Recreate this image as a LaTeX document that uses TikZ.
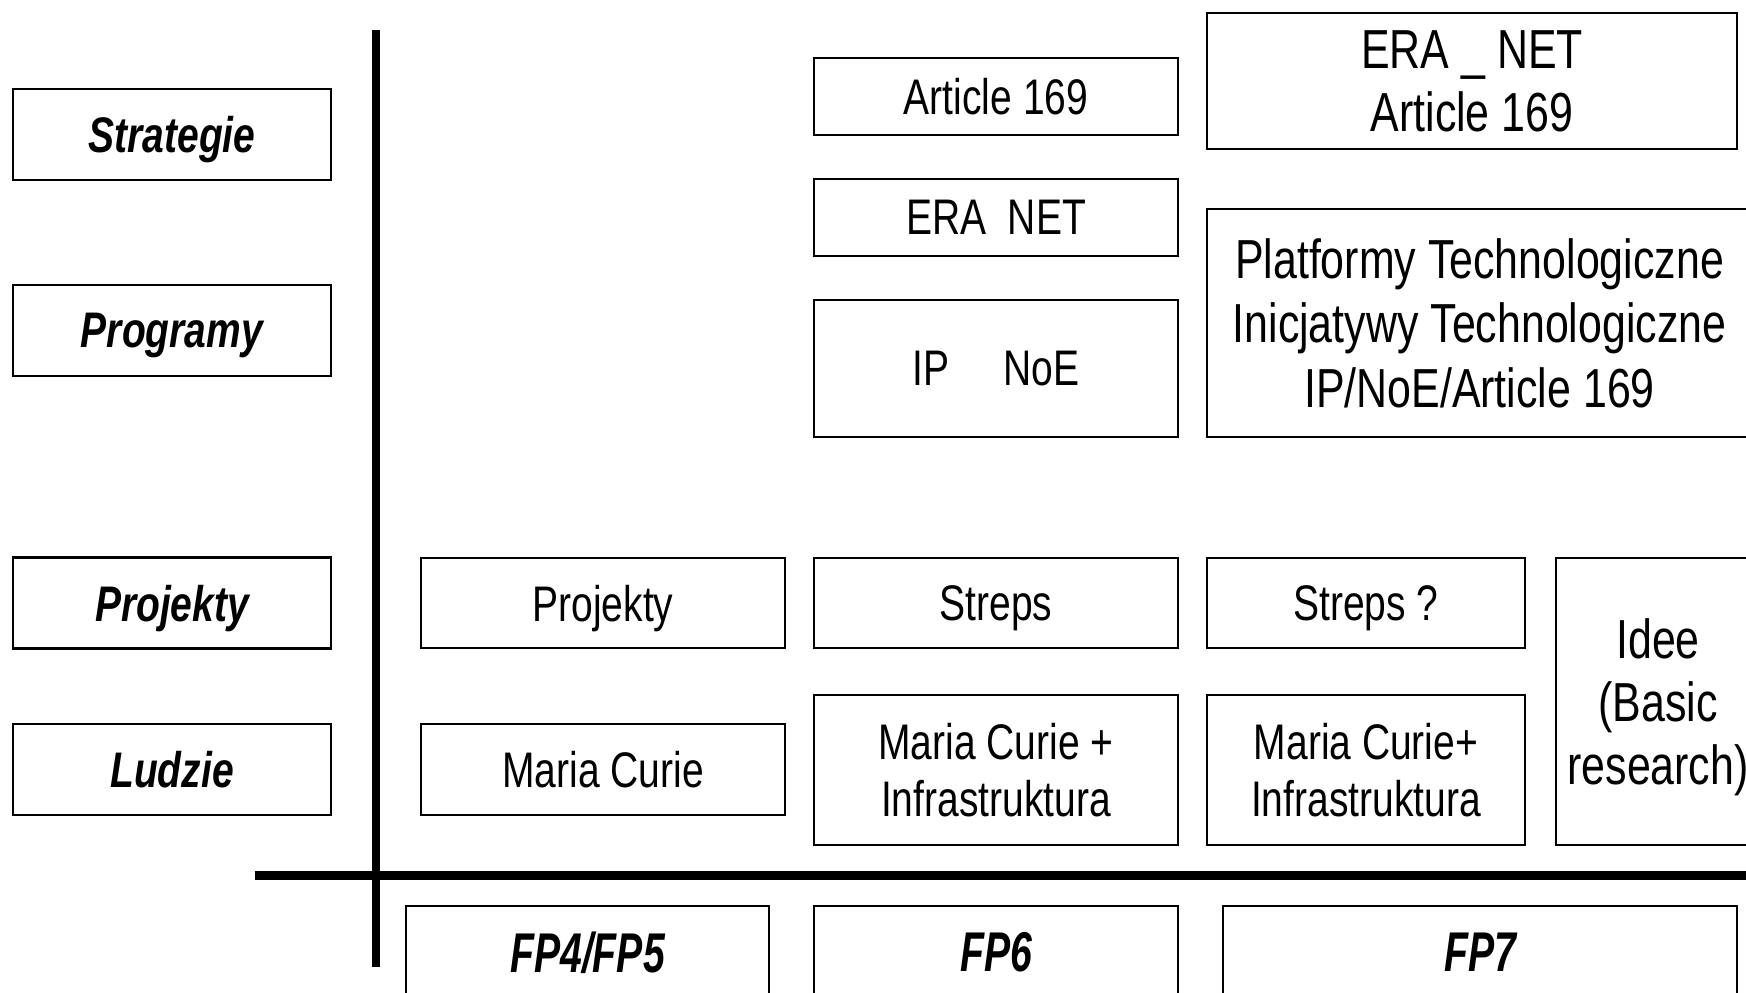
\documentclass[tikz,border=0pt]{standalone}
\usepackage{fontspec}
\setmainfont[FakeStretch=0.78]{Liberation Sans}
\newfontfamily\fpfont[FakeStretch=0.7]{Liberation Sans}
\begin{document}
\begin{tikzpicture}[x=0.5pt,y=-0.5pt,
    box/.style={draw,line width=1.2pt,inner sep=0pt,align=center,font=\fontsize{25}{28.5}\selectfont},
    onebox/.style={box,text depth=0pt},
    bigbox/.style={box,font=\fontsize{27.5}{31.5}\selectfont},
    rowlabel/.style={onebox,minimum width=159pt,minimum height=45.5pt,font=\fontsize{25}{28.5}\selectfont\bfseries\itshape},
    fpbox/.style={onebox,minimum height=46pt,font=\fontsize{28}{30}\selectfont\fpfont\bfseries\itshape}]
    \useasboundingbox (0,0) rectangle (1746,992);
    \clip (0,0) rectangle (1746,992);
    % Labels
    \node[rowlabel] (strategie) at (172,134.5) {Strategie};
    \node[rowlabel] (programy) at (172,330.5) {Programy};
    \node[rowlabel] (projekty) at (172,603) {Projekty};
    \node[rowlabel] (ludzie) at (172,769.5) {Ludzie};
    % Axes
    \coordinate (vtop) at (376,30);
    \coordinate (vbot) at (376,967);
    \coordinate (hleft) at (255,875);
    \coordinate (hright) at (1760,875);
    \draw[line width=4.3pt] (vtop) -- (vbot);
    \draw[line width=4.5pt] (hleft) -- (hright);
    % FP4/FP5
    \node[onebox,minimum width=182pt,minimum height=45pt] (projfp5) at (603,603) {Projekty};
    \node[onebox,minimum width=182pt,minimum height=45.5pt] (curiefp5) at (603,769.5) {Maria Curie};
    % FP6
    \node[onebox,minimum width=182pt,minimum height=38.5pt] (artfp6) at (996,96.5) {Article 169};
    \node[onebox,minimum width=182pt,minimum height=38.5pt] (erafp6) at (996,217.5) {ERA\ \ NET};
    \node[onebox,minimum width=182pt,minimum height=68.5pt] (ipfp6) at (996,368.5) {IP\hspace{27pt}NoE};
    \node[onebox,minimum width=182pt,minimum height=45pt] (strepsfp6) at (996,603) {Streps};
    \node[box,minimum width=182pt,minimum height=75pt] (curiefp6) at (996,770) {Maria Curie +\\Infrastruktura};
    % FP7
    \node[bigbox,minimum width=265pt,minimum height=68pt] (erafp7) at (1472,81) {ERA \_ NET\\Article 169};
    \node[bigbox,font=\fontsize{27.5}{32.3}\selectfont,minimum width=272.5pt,minimum height=114pt] (platfp7) at (1479.5,323) {Platformy Technologiczne\\Inicjatywy Technologiczne\\IP/NoE/Article 169};
    \node[onebox,minimum width=159pt,minimum height=45pt] (strepsfp7) at (1366,603) {Streps ?};
    \node[box,minimum width=159pt,minimum height=75pt] (curiefp7) at (1366,770) {Maria Curie+\\Infrastruktura};
    \node[bigbox,text depth=0pt,minimum width=102pt,minimum height=143.5pt] (ideefp7) at (1658,701.5) {Idee\\(Basic\\research)};
    % Programmes
    \node[fpbox,minimum width=181.5pt] (fp45) at (587.5,952) {FP4/FP5};
    \node[fpbox,minimum width=182pt] (fp6) at (996,952) {FP6};
    \node[fpbox,minimum width=257pt] (fp7) at (1480,952) {FP7};
\end{tikzpicture}
\end{document}
